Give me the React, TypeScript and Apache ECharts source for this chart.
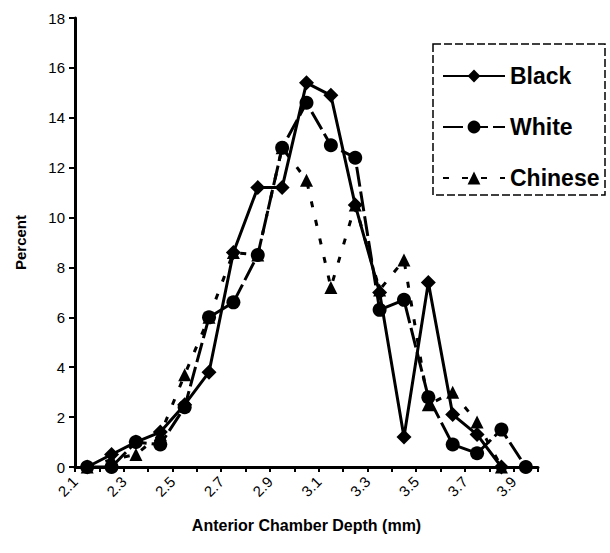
import React, { useEffect, useRef } from 'react';
import * as echarts from 'echarts';

const FONT = 'Arial, "Liberation Sans", Helvetica, sans-serif';

// bin midpoints (mm)
const xValues = [2.15, 2.25, 2.35, 2.45, 2.55, 2.65, 2.75, 2.85, 2.95, 3.05, 3.15, 3.25, 3.35, 3.45, 3.55, 3.65, 3.75, 3.85, 3.95];
const blackValues = [0, 0.5, 1.0, 1.4, 2.5, 3.8, 8.6, 11.2, 11.2, 15.4, 14.9, 10.5, 7.0, 1.2, 7.4, 2.1, 1.3, 0];
const whiteValues = [0, 0, 1.0, 0.9, 2.4, 6.0, 6.6, 8.5, 12.8, 14.6, 12.9, 12.4, 6.3, 6.7, 2.8, 0.9, 0.55, 1.5, 0];
const chineseValues = [0, 0.3, 0.5, 1.3, 3.7, 6.0, 8.6, 8.5, 12.8, 11.5, 7.2, 10.5, 7.1, 8.3, 2.5, 3.0, 1.8, 0];
const seriesNames = ['Black', 'White', 'Chinese'];

const pair = (vals: number[]) => vals.map((v, i) => [xValues[i], v]);

export default function App() {
  const ref = useRef<HTMLDivElement>(null);
  useEffect(() => {
    const chart = echarts.init(ref.current!, null, { renderer: 'svg' });
    chart.setOption({
      animation: false,
      backgroundColor: '#fff',
      textStyle: { fontFamily: FONT, color: '#000' },
      grid: { left: 75, right: 72, top: 18, bottom: 86, containLabel: false },
      xAxis: {
        type: 'value',
        min: 2.1,
        max: 4.0,
        interval: 0.1,
        axisLine: { show: true, onZero: false, lineStyle: { color: '#000', width: 3 } },
        axisTick: { show: true, length: 5, lineStyle: { color: '#000', width: 2 } },
        splitLine: { show: false },
        axisLabel: {
          rotate: 45,
          margin: 12,
          fontSize: 15,
          color: '#000',
          fontFamily: FONT,
          formatter: (v: number) => {
            const t = Math.round(v * 10);
            return t % 2 === 1 ? (t / 10).toFixed(1) : '';
          },
        },
        name: 'Anterior Chamber Depth (mm)',
        nameLocation: 'middle',
        nameGap: 50,
        nameTextStyle: { fontSize: 16, fontWeight: 'bold', color: '#000', fontFamily: FONT },
      },
      yAxis: {
        type: 'value',
        min: 0,
        max: 18,
        interval: 2,
        axisLine: { show: true, lineStyle: { color: '#000', width: 3 } },
        axisTick: { show: true, length: 6, lineStyle: { color: '#000', width: 2 } },
        splitLine: { show: false },
        axisLabel: { fontSize: 15, color: '#000', margin: 10, fontFamily: FONT },
        name: 'Percent',
        nameLocation: 'middle',
        nameGap: 47,
        nameTextStyle: { fontSize: 15, fontWeight: 'bold', color: '#000', fontFamily: FONT },
      },
      legend: {
        orient: 'vertical',
        left: 437,
        top: 58,
        itemWidth: 62,
        itemHeight: 16,
        itemGap: 25,
        data: seriesNames,
        textStyle: { fontSize: 23, fontWeight: 'bold', color: '#000', fontFamily: FONT, lineHeight: 26 },
      },
      graphic: [
        {
          type: 'rect',
          shape: { x: 433, y: 44, width: 172, height: 151 },
          style: { fill: 'none', stroke: '#000', lineWidth: 1.5, lineDash: [8, 3] },
        },
      ],
      series: [
        {
          name: seriesNames[0],
          type: 'line',
          data: pair(blackValues),
          symbol: 'diamond',
          symbolSize: 15,
          lineStyle: { color: '#000', width: 3, type: 'solid' },
          itemStyle: { color: '#000' },
        },
        {
          name: seriesNames[1],
          type: 'line',
          data: pair(whiteValues),
          symbol: 'circle',
          symbolSize: 14,
          lineStyle: { color: '#000', width: 3, type: [20, 5] },
          itemStyle: { color: '#000' },
        },
        {
          name: seriesNames[2],
          type: 'line',
          data: pair(chineseValues),
          symbol: 'triangle',
          symbolSize: 13,
          lineStyle: { color: '#000', width: 3, type: [6, 13] },
          itemStyle: { color: '#000' },
        },
      ],
    });
    return () => chart.dispose();
  }, []);
  return (
    <div
      ref={ref}
      style={{ position: 'absolute', left: 0, top: 0, width: 610, height: 553, background: '#fff' }}
    />
  );
}
